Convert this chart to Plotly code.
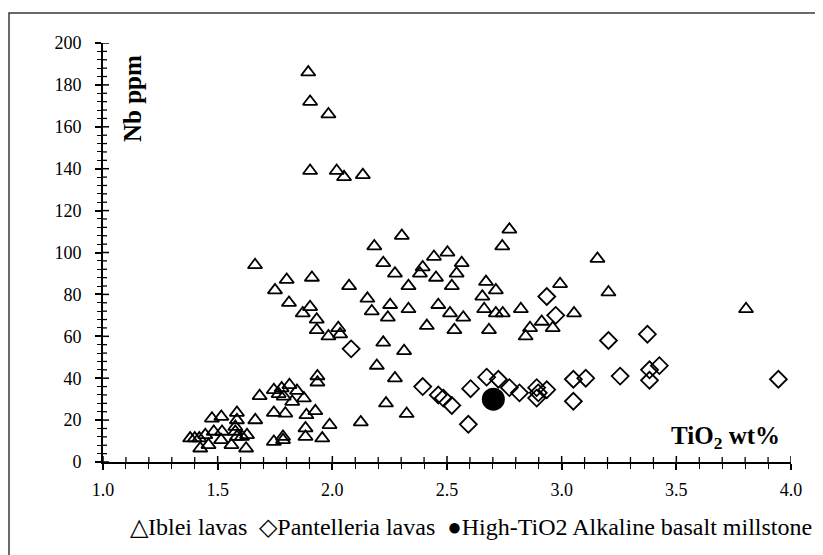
import plotly.graph_objects as go

# ---- data ----
iblei_x = [1.895, 1.903, 1.983, 1.903, 2.019, 2.051, 2.133,
           1.663, 1.801, 1.750, 1.911, 1.811, 1.903, 1.871, 1.932, 1.932, 1.983, 2.026, 2.034,
           2.303, 2.772, 2.741, 2.183, 2.222, 2.273, 2.443, 2.502, 2.564, 2.394, 2.382, 2.452,
           2.542, 2.521, 2.332, 2.073, 2.153, 2.172, 2.252, 2.242, 2.332, 2.462, 2.513, 2.571,
           2.412, 2.532, 2.670, 2.713, 2.654, 2.662, 2.713, 2.743, 2.683, 2.822, 2.862, 2.843,
           2.913, 2.961, 2.993, 3.054, 3.156, 3.204, 3.804,
           2.222, 2.313, 2.194, 2.273, 2.234, 2.324, 2.124, 1.935, 1.935,
           1.683, 1.745, 1.779, 1.813, 1.766, 1.788, 1.846, 1.876, 1.825, 1.745, 1.795, 1.887,
           1.926, 1.664, 1.988, 1.883, 1.883, 1.956, 1.745, 1.785, 1.785, 1.584, 1.584, 1.577,
           1.577, 1.584, 1.475, 1.516, 1.628, 1.624, 1.560, 1.515, 1.483, 1.519, 1.446, 1.424,
           1.460, 1.380, 1.400, 1.420, 1.606]
iblei_y = [186, 172, 166, 139, 139, 136, 137,
           94, 87, 82, 88, 76, 74, 71, 68, 63, 60, 64, 61,
           108, 111, 103, 103, 95, 90, 98, 100, 95, 93, 90, 88,
           90, 84, 84, 84, 78, 72, 75, 69, 73, 75, 71, 69,
           65, 63, 86, 82, 79, 73, 71, 71, 63, 73, 64, 60,
           67, 64, 85, 71, 97, 81, 73,
           57, 53, 46, 40, 28, 23, 19, 41, 38,
           31.5, 34.4, 35.2, 36.8, 32.5, 31.3, 34, 30.4, 28.8, 23.5, 23.2, 22.4,
           24.3, 20, 17.7, 16.1, 12.1, 11.3, 9.7, 12.1, 10.5, 23.5, 20, 16.8,
           14.5, 12.1, 20.8, 21.6, 12.9, 6.5, 8.1, 10.5, 14.5, 14.5, 12.9, 6.5,
           8.1, 11.3, 11.3, 11.3, 12.1]

pant_x = [2.082, 2.935, 2.974, 2.394, 2.462, 2.484, 2.521, 2.603, 2.593, 2.673, 2.724, 2.772,
          2.816, 2.891, 2.935, 2.898, 2.891, 3.051, 3.051, 3.105, 3.204, 3.374, 3.255, 3.383,
          3.426, 3.383, 3.945]
pant_y = [54, 79, 70, 36, 32, 30.5, 27, 35, 18, 40.5, 39.5, 35.5,
          33, 35.5, 34.5, 33, 30.5, 39.5, 29, 40, 58, 61, 41, 44,
          46, 39, 39.5]

mill_x = [2.702]
mill_y = [30]

x_ticks = [1.0, 1.5, 2.0, 2.5, 3.0, 3.5, 4.0]
y_ticks = [0, 20, 40, 60, 80, 100, 120, 140, 160, 180, 200]
x_minor_step = 0.1
y_minor_step = 4

FONT = "Liberation Serif"

fig = go.Figure()
fig.add_trace(go.Scatter(x=iblei_x, y=iblei_y, mode="markers", name="Iblei lavas",
                         marker=dict(symbol="triangle-up-open", size=12.5, color="black",
                                     line=dict(width=1.8, color="black"))))
fig.add_trace(go.Scatter(x=pant_x, y=pant_y, mode="markers", name="Pantelleria lavas",
                         marker=dict(symbol="diamond-open", size=13, color="black",
                                     line=dict(width=1.8, color="black"))))
fig.add_trace(go.Scatter(x=mill_x, y=mill_y, mode="markers",
                         name="High-TiO2 Alkaline basalt millstone",
                         marker=dict(symbol="circle", size=23, color="black")))

tickfont = dict(family=FONT, size=18, color="black")

# the page has an 8px body margin, so the figure is 8px smaller than the window
W, H = 815, 547
L, R, T, B = 95, 32, 35, 93
pw, ph = W - L - R, H - T - B


def px(xp):
    return (xp - L) / pw


def py(yp):
    return (H - B - yp) / ph


# inner half of the crossing tick marks (the outer half is drawn by the axes)
shapes = []
x0, x1 = x_ticks[0], x_ticks[-1]
nx = int(round((x1 - x0) / x_minor_step))
for i in range(nx + 1):
    v = x0 + i * x_minor_step
    major = i % 5 == 0
    ln = 6 if major else 5
    shapes.append(dict(type="line", xref="x", yref="paper", x0=v, x1=v, y0=0, y1=ln / ph,
                       line=dict(color="black", width=1.5 if major else 1.3), layer="above"))
y0, y1 = y_ticks[0], y_ticks[-1]
ny = int(round((y1 - y0) / y_minor_step))
for i in range(ny + 1):
    v = y0 + i * y_minor_step
    major = i % 5 == 0
    ln = 6 if major else 4
    shapes.append(dict(type="line", xref="paper", yref="y", x0=0, x1=ln / pw, y0=v, y1=v,
                       line=dict(color="black", width=1.5 if major else 1.3), layer="above"))

# outer chart border
shapes.append(dict(type="rect", xref="paper", yref="paper",
                   x0=px(1), x1=px(840), y0=py(570), y1=py(5),
                   line=dict(color="#3a3a3a", width=1.5), fillcolor="rgba(0,0,0,0)",
                   layer="below"))

fig.update_layout(
    width=W, height=H,
    margin=dict(l=L, r=R, t=T, b=B),
    paper_bgcolor="white", plot_bgcolor="white",
    showlegend=False,
    xaxis=dict(range=[1.0, 4.0], tickvals=x_ticks, tickformat=".1f", ticks="outside",
               ticklen=6, tickwidth=1.5, tickcolor="black", ticklabelstandoff=4,
               minor=dict(dtick=x_minor_step, ticks="outside", ticklen=5, tickwidth=1.3,
                          tickcolor="black"),
               showgrid=False, zeroline=False, showline=True, linecolor="black", linewidth=2,
               tickfont=tickfont, anchor="y", fixedrange=True),
    yaxis=dict(range=[0, 200], tickvals=y_ticks, ticks="outside",
               ticklen=6, tickwidth=1.5, tickcolor="black", ticklabelstandoff=10,
               minor=dict(dtick=y_minor_step, ticks="outside", ticklen=4, tickwidth=1.3,
                          tickcolor="black"),
               showgrid=False, zeroline=False, showline=True, linecolor="black", linewidth=2,
               tickfont=tickfont, anchor="x", fixedrange=True),
    annotations=[
        dict(text="<b>Nb ppm</b>", xref="paper", yref="paper", x=px(124), y=py(91),
             xanchor="center", yanchor="middle",
             textangle=-90, showarrow=False, font=dict(family=FONT, size=25, color="black")),
        dict(text="<b>TiO<sub>2</sub> wt%</b>", xref="paper", yref="paper", x=px(774), y=py(429),
             xanchor="right", yanchor="middle", showarrow=False,
             font=dict(family=FONT, size=25, color="black")),
        dict(text="△Iblei lavas  ◇Pantelleria lavas  ●High-TiO2 Alkaline basalt millstone",
             xref="paper", yref="paper", x=px(463), y=py(519), xanchor="center", yanchor="middle",
             showarrow=False, font=dict(family=FONT, size=24, color="black")),
    ],
    shapes=shapes,
)

fig.write_html("out.html")
